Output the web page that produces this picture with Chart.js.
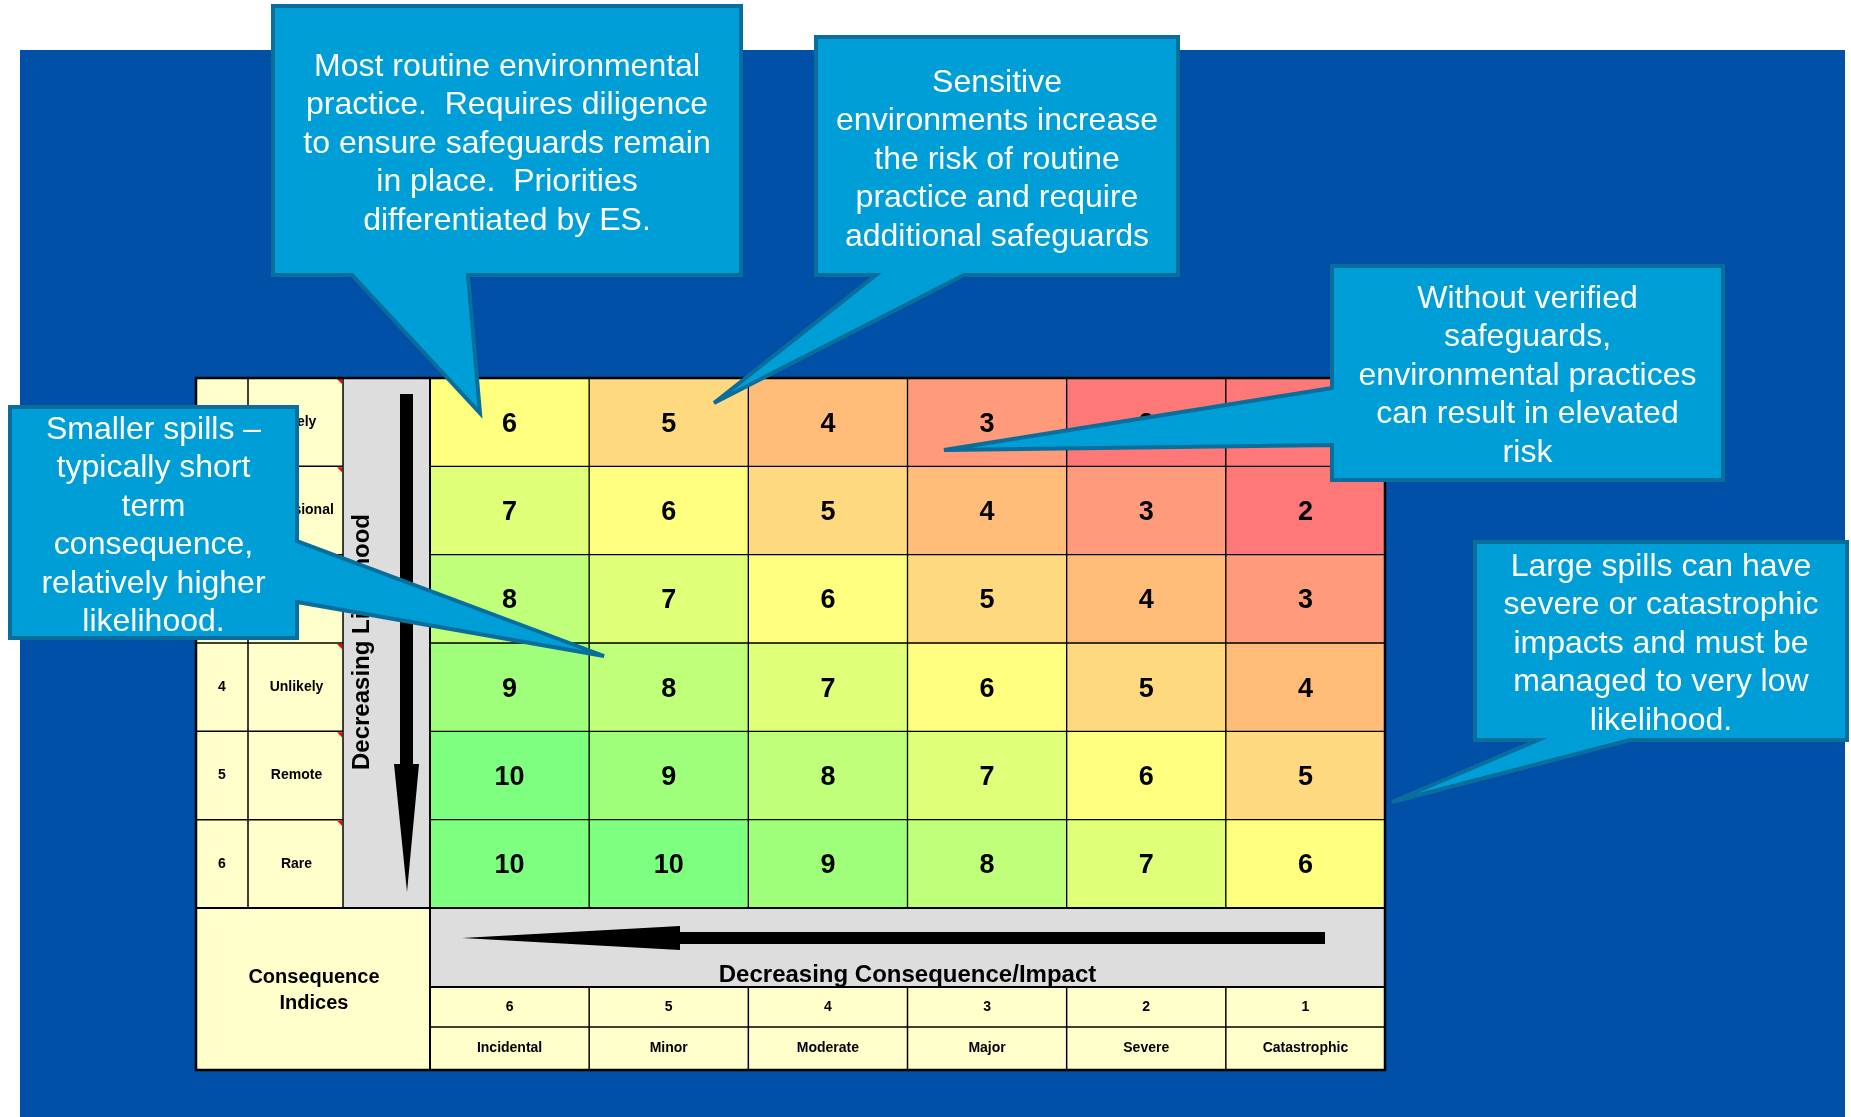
<!DOCTYPE html>
<html>
<head>
<meta charset="utf-8">
<script src="https://cdn.jsdelivr.net/npm/chart.js@4.4.1/dist/chart.umd.min.js"></script>
<style>
  html, body { margin: 0; padding: 0; background: #fff; }
  canvas { display: block; }
</style>
</head>
<body>
<canvas id="riskMatrix" width="1851" height="1117"></canvas>
<script>
// consequence columns, left to right
const consequenceIndex = ['6', '5', '4', '3', '2', '1'];
const consequenceNames = ['Incidental', 'Minor', 'Moderate', 'Major', 'Severe', 'Catastrophic'];
// likelihood rows, top to bottom
const likelihoodIndex = ['1', '2', '3', '4', '5', '6'];
const likelihoodNames = ['Likely', 'Occasional', 'Possible', 'Unlikely', 'Remote', 'Rare'];

// risk ranking of each cell, one array per likelihood row
const row1 = [6, 5, 4, 3, 2, 1];
const row2 = [7, 6, 5, 4, 3, 2];
const row3 = [8, 7, 6, 5, 4, 3];
const row4 = [9, 8, 7, 6, 5, 4];
const row5 = [10, 9, 8, 7, 6, 5];
const row6 = [10, 10, 9, 8, 7, 6];
const riskScores = [row1, row2, row3, row4, row5, row6];

const scoreColors = {
    1: '#FF7878', 2: '#FF7878', 3: '#FF9A7A', 4: '#FFBB78', 5: '#FFD97F',
    6: '#FFFF7F', 7: '#DFFF78', 8: '#BFFF7A', 9: '#9FFF7A', 10: '#7FFF7F'
};

// callout texts
const noteRoutine = ['Most routine environmental', 'practice.  Requires diligence', 'to ensure safeguards remain', 'in place.  Priorities', 'differentiated by ES.'];
const noteSensitive = ['Sensitive', 'environments increase', 'the risk of routine', 'practice and require', 'additional safeguards'];
const noteUnverified = ['Without verified', 'safeguards,', 'environmental practices', 'can result in elevated', 'risk'];
const noteSmall = ['Smaller spills \u2013', 'typically short', 'term', 'consequence,', 'relatively higher', 'likelihood.'];
const noteLarge = ['Large spills can have', 'severe or catastrophic', 'impacts and must be', 'managed to very low', 'likelihood.'];

const FONT = "'Liberation Sans', Arial, sans-serif";

// callout shapes (box + pointer outline) in page pixels
const callouts = [
    { lines: noteRoutine, box: [273, 6, 741, 275], top: 67,
      shape: [[273, 6], [741, 6], [741, 275], [468, 275], [480, 413], [352, 275], [273, 275]] },
    { lines: noteSensitive, box: [816, 37, 1178, 275], top: 83,
      shape: [[816, 37], [1178, 37], [1178, 275], [964, 275], [714, 403], [876, 275], [816, 275]] },
    { lines: noteUnverified, box: [1332, 266, 1723, 480], top: 299,
      shape: [[1332, 266], [1723, 266], [1723, 480], [1332, 480], [1332, 445], [944, 450], [1332, 388]] },
    { lines: noteSmall, box: [10, 407, 297, 638], top: 430,
      shape: [[10, 407], [297, 407], [297, 541], [604, 656], [297, 602], [297, 638], [10, 638]] },
    { lines: noteLarge, box: [1475, 542, 1847, 740], top: 567,
      shape: [[1475, 542], [1847, 542], [1847, 740], [1630, 740], [1392, 802], [1538, 740], [1475, 740]] }
];

const backgroundPlugin = {
    id: 'background',
    beforeDraw(chart) {
        const ctx = chart.ctx;
        ctx.save();
        ctx.fillStyle = '#ffffff';
        ctx.fillRect(0, 0, chart.width, chart.height);
        ctx.fillStyle = '#0050A8';
        ctx.fillRect(20, 50, 1825, chart.height - 50);
        ctx.restore();
    }
};

const cellLabelPlugin = {
    id: 'cellLabels',
    afterDatasetsDraw(chart) {
        const ctx = chart.ctx;
        ctx.save();
        ctx.fillStyle = '#000';
        ctx.font = 'bold 27px ' + FONT;
        ctx.textAlign = 'center';
        ctx.textBaseline = 'middle';
        chart.data.datasets.forEach((ds, i) => {
            chart.getDatasetMeta(i).data.forEach((bar, j) => {
                ctx.fillText(String(ds.scores[j]), bar.x, (bar.y + bar.base) / 2 + 2);
            });
        });
        ctx.restore();
    }
};

function line(ctx, x1, y1, x2, y2) {
    ctx.beginPath();
    ctx.moveTo(x1, y1);
    ctx.lineTo(x2, y2);
    ctx.stroke();
}

const tablePlugin = {
    id: 'tableFrame',
    afterDraw(chart) {
        const ctx = chart.ctx;
        const area = chart.chartArea;
        const xs = chart.scales.x;
        const ys = chart.scales.y;
        const colW = (area.right - area.left) / consequenceIndex.length;
        const colEdge = j => xs.getPixelForValue(j) - colW / 2;
        const rowEdge = r => ys.getPixelForValue(r);

        const tableLeft = 196, idxRight = 248, nameRight = 343;
        const bandBottom = area.bottom + 79, idxRowBottom = area.bottom + 119, tableBottom = area.bottom + 162;

        ctx.save();
        // header cells
        ctx.fillStyle = '#FFFFCC';
        ctx.fillRect(tableLeft, area.top, nameRight - tableLeft, area.bottom - area.top);
        ctx.fillRect(tableLeft, area.bottom, area.left - tableLeft, tableBottom - area.bottom);
        ctx.fillRect(area.left, bandBottom, area.right - area.left, tableBottom - bandBottom);
        ctx.fillStyle = '#DDDDDD';
        ctx.fillRect(nameRight, area.top, area.left - nameRight, area.bottom - area.top);
        ctx.fillRect(area.left, area.bottom, area.right - area.left, bandBottom - area.bottom);

        // lines
        ctx.strokeStyle = '#000';
        ctx.lineWidth = 1.5;
        for (let r = 1; r < likelihoodIndex.length; r++) {
            line(ctx, tableLeft, rowEdge(r), nameRight, rowEdge(r));
        }
        line(ctx, idxRight, area.top, idxRight, area.bottom);
        line(ctx, nameRight, area.top, nameRight, area.bottom);
        for (let j = 1; j < consequenceIndex.length; j++) {
            line(ctx, colEdge(j), bandBottom, colEdge(j), tableBottom);
        }
        line(ctx, area.left, idxRowBottom, area.right, idxRowBottom);
        ctx.lineWidth = 2;
        line(ctx, area.left, area.top, area.left, tableBottom);
        line(ctx, tableLeft, area.bottom, area.right, area.bottom);
        line(ctx, area.left, bandBottom, area.right, bandBottom);

        // comment markers
        ctx.fillStyle = '#FF0000';
        for (let r = 0; r < likelihoodIndex.length; r++) {
            const y = rowEdge(r) + 1;
            ctx.beginPath();
            ctx.moveTo(nameRight - 6, y);
            ctx.lineTo(nameRight - 1, y);
            ctx.lineTo(nameRight - 1, y + 5);
            ctx.fill();
        }

        // header texts
        ctx.fillStyle = '#000';
        ctx.textAlign = 'center';
        ctx.textBaseline = 'middle';
        ctx.font = 'bold 14px ' + FONT;
        likelihoodIndex.forEach((lbl, r) => {
            const yc = (rowEdge(r) + rowEdge(r + 1)) / 2;
            ctx.fillText(lbl, (tableLeft + idxRight) / 2, yc);
            ctx.fillText(likelihoodNames[r], (idxRight + nameRight) / 2 + 1, yc);
        });
        consequenceIndex.forEach((lbl, j) => {
            const xc = xs.getPixelForValue(j);
            ctx.fillText(lbl, xc, (bandBottom + idxRowBottom) / 2);
            ctx.fillText(consequenceNames[j], xc, (idxRowBottom + tableBottom) / 2);
        });
        ctx.font = 'bold 20px ' + FONT;
        ctx.fillText('Consequence', (tableLeft + area.left) / 2 + 1, area.bottom + 69);
        ctx.fillText('Indices', (tableLeft + area.left) / 2 + 1, area.bottom + 95);

        ctx.font = 'bold 24px ' + FONT;
        ctx.fillText('Decreasing Consequence/Impact', (area.left + area.right) / 2, area.bottom + 67);
        ctx.save();
        ctx.translate(362, (area.top + area.bottom) / 2 - 1);
        ctx.rotate(-Math.PI / 2);
        ctx.fillText('Decreasing Likelihood', 0, 0);
        ctx.restore();

        // arrows
        ctx.fillStyle = '#000';
        ctx.fillRect(400, area.top + 16, 13, 370);
        ctx.beginPath();
        ctx.moveTo(394, area.top + 386);
        ctx.lineTo(419, area.top + 386);
        ctx.lineTo(407, area.top + 514);
        ctx.closePath();
        ctx.fill();
        ctx.fillRect(680, area.bottom + 24, 645, 12);
        ctx.beginPath();
        ctx.moveTo(680, area.bottom + 18);
        ctx.lineTo(680, area.bottom + 42);
        ctx.lineTo(462, area.bottom + 30);
        ctx.closePath();
        ctx.fill();

        // outer frame
        ctx.lineWidth = 2.5;
        ctx.strokeRect(tableLeft, area.top, area.right - tableLeft, tableBottom - area.top);

        // callouts
        callouts.forEach(c => {
            ctx.beginPath();
            c.shape.forEach((p, k) => k === 0 ? ctx.moveTo(p[0], p[1]) : ctx.lineTo(p[0], p[1]));
            ctx.closePath();
            ctx.fillStyle = '#009ED6';
            ctx.fill();
            ctx.lineWidth = 4;
            ctx.lineJoin = 'miter';
            ctx.strokeStyle = '#0A6E9C';
            ctx.stroke();
            ctx.fillStyle = '#ffffff';
            ctx.font = '32px ' + FONT;
            const cx = (c.box[0] + c.box[2]) / 2;
            c.lines.forEach((t, k) => ctx.fillText(t, cx, c.top + k * 38.5));
        });
        ctx.restore();
    }
};

const matrixChart = new Chart(document.getElementById('riskMatrix').getContext('2d'), {
    type: 'bar',
    data: {
        labels: consequenceIndex,
        datasets: riskScores.map((scores, r) => ({
            label: likelihoodNames[r],
            data: scores.map(() => [r, r + 1]),
            scores: scores,
            backgroundColor: scores.map(s => scoreColors[s]),
            borderColor: '#000000',
            borderWidth: 1,
            borderSkipped: false,
            barPercentage: 1,
            categoryPercentage: 1,
            grouped: false
        }))
    },
    options: {
        responsive: false,
        animation: false,
        devicePixelRatio: 1,
        layout: {
            padding: { left: 430, top: 378, right: 466, bottom: 209 }
        },
        plugins: {
            legend: { display: false },
            tooltip: { enabled: false }
        },
        scales: {
            x: { display: false, offset: true },
            y: { display: false, min: 0, max: 6, reverse: true }
        }
    },
    plugins: [backgroundPlugin, cellLabelPlugin, tablePlugin]
});
</script>
</body>
</html>
